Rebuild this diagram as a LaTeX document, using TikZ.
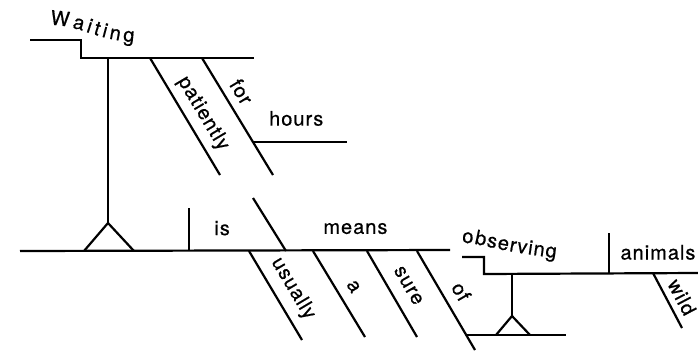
\documentclass[tikz,border=0pt]{standalone}
\usepackage{fontspec}
\setmainfont{TeX Gyre Heros}[LetterSpace=5, FakeBold=0.6]
\usetikzlibrary{decorations.text}
\tikzset{
  rule line/.style={draw=black, line width=2.2pt},
  word/.style={font=\wordfont, inner sep=1pt},
  slant word/.style={word, sloped}
}
\newcommand{\wordfont}{\fontsize{20}{24}\selectfont}
\newcommand{\curvedWord}[2]{%
  \path[decorate, decoration={text along path, text align=fit to path,
    text={|\wordfont|#2}}] #1;%
}

\begin{document}
\begin{tikzpicture}[x=1pt,y=-1pt]
  \useasboundingbox (0,0) rectangle (698,351);

  % gerund phrase on its stand
  \coordinate (wait0) at (30,40);
  \coordinate (wait1) at (81,40);
  \coordinate (wait2) at (81,58);
  \coordinate (wait3) at (254,58);
  \draw[rule line] (wait0) -- (wait1) -- (wait2) -- (wait3);
  \curvedWord{(50,25) .. controls (80,25) and (95,40) .. (134,42)}{Waiting}

  \coordinate (pat0) at (150,58);
  \coordinate (pat1) at (220,175);
  \draw[rule line] (pat0) -- (pat1)
    node[slant word, pos=0.55, above=5.4pt] (patiently) {patiently};
  \coordinate (for0) at (202,58);
  \coordinate (for1) at (273,175);
  \draw[rule line] (for0) -- (for1)
    node[slant word, pos=0.36, above=6.7pt] (for) {for};
  \coordinate (hrs0) at (253,142);
  \coordinate (hrs1) at (347,142);
  \draw[rule line] (hrs0) -- (hrs1)
    node[word, pos=0.46, above=14pt] (hours) {hours};

  \coordinate (stem0) at (108,58);
  \coordinate (apex0) at (108,223);
  \coordinate (foot0L) at (84,251);
  \coordinate (foot0R) at (134,251);
  \draw[rule line] (stem0) -- (apex0);
  \draw[rule line] (foot0L) -- (apex0) -- (foot0R);

  % main line
  \coordinate (main0) at (20,251);
  \coordinate (main1) at (450,250);
  \draw[rule line] (main0) -- (main1)
    node[word, pos=0.47, above=13pt] (is) {is}
    node[word, pos=0.78, above=14pt] (means) {means};
  \coordinate (isbar0) at (189,208);
  \coordinate (isbar1) at (189,251);
  \draw[rule line] (isbar0) -- (isbar1);
  \coordinate (pn0) at (253,198);
  \coordinate (pn1) at (286,251);
  \draw[rule line] (pn0) -- (pn1);

  % modifiers under the main line
  \coordinate (us0) at (249,251);
  \coordinate (us1) at (302,340);
  \draw[rule line] (us0) -- (us1)
    node[slant word, pos=0.53, above=7pt] (usually) {usually};
  \coordinate (a0) at (313,251);
  \coordinate (a1) at (365,337);
  \draw[rule line] (a0) -- (a1)
    node[slant word, pos=0.51, above=8.6pt] (a) {a};
  \coordinate (sure0) at (367,251);
  \coordinate (sure1) at (417,337);
  \draw[rule line] (sure0) -- (sure1)
    node[slant word, pos=0.51, above=10.8pt] (sure) {sure};
  \coordinate (of0) at (417,251);
  \coordinate (of1) at (475,350);
  \draw[rule line] (of0) -- (of1)
    node[slant word, pos=0.50, above=8.2pt] (of) {of};

  % object of the preposition on its stand
  \coordinate (ped0) at (466,335);
  \coordinate (ped1) at (566,335);
  \draw[rule line] (ped0) -- (ped1);
  \coordinate (apex1) at (512,316);
  \coordinate (foot1L) at (496,335);
  \coordinate (foot1R) at (530,335);
  \coordinate (stem1) at (512,274);
  \draw[rule line] (stem1) -- (apex1);
  \draw[rule line] (foot1L) -- (apex1) -- (foot1R);

  \coordinate (obs0) at (462,257);
  \coordinate (obs1) at (484,257);
  \coordinate (obs2) at (484,274);
  \coordinate (obs3) at (698,273);
  \draw[rule line] (obs0) -- (obs1) -- (obs2) -- (obs3);
  \curvedWord{(462,243) .. controls (478,242) and (488,250) .. (556,258)}{observing}

  \coordinate (anbar0) at (609,233);
  \coordinate (anbar1) at (609,273);
  \draw[rule line] (anbar0) -- (anbar1);
  \path (anbar1) -- (obs3)
    node[word, pos=0.55, above=12pt] (animals) {animals};
  \coordinate (wild0) at (653,273);
  \coordinate (wild1) at (682,328);
  \draw[rule line] (wild0) -- (wild1)
    node[slant word, pos=0.56, above=4.9pt] (wild) {wild};
\end{tikzpicture}
\end{document}
